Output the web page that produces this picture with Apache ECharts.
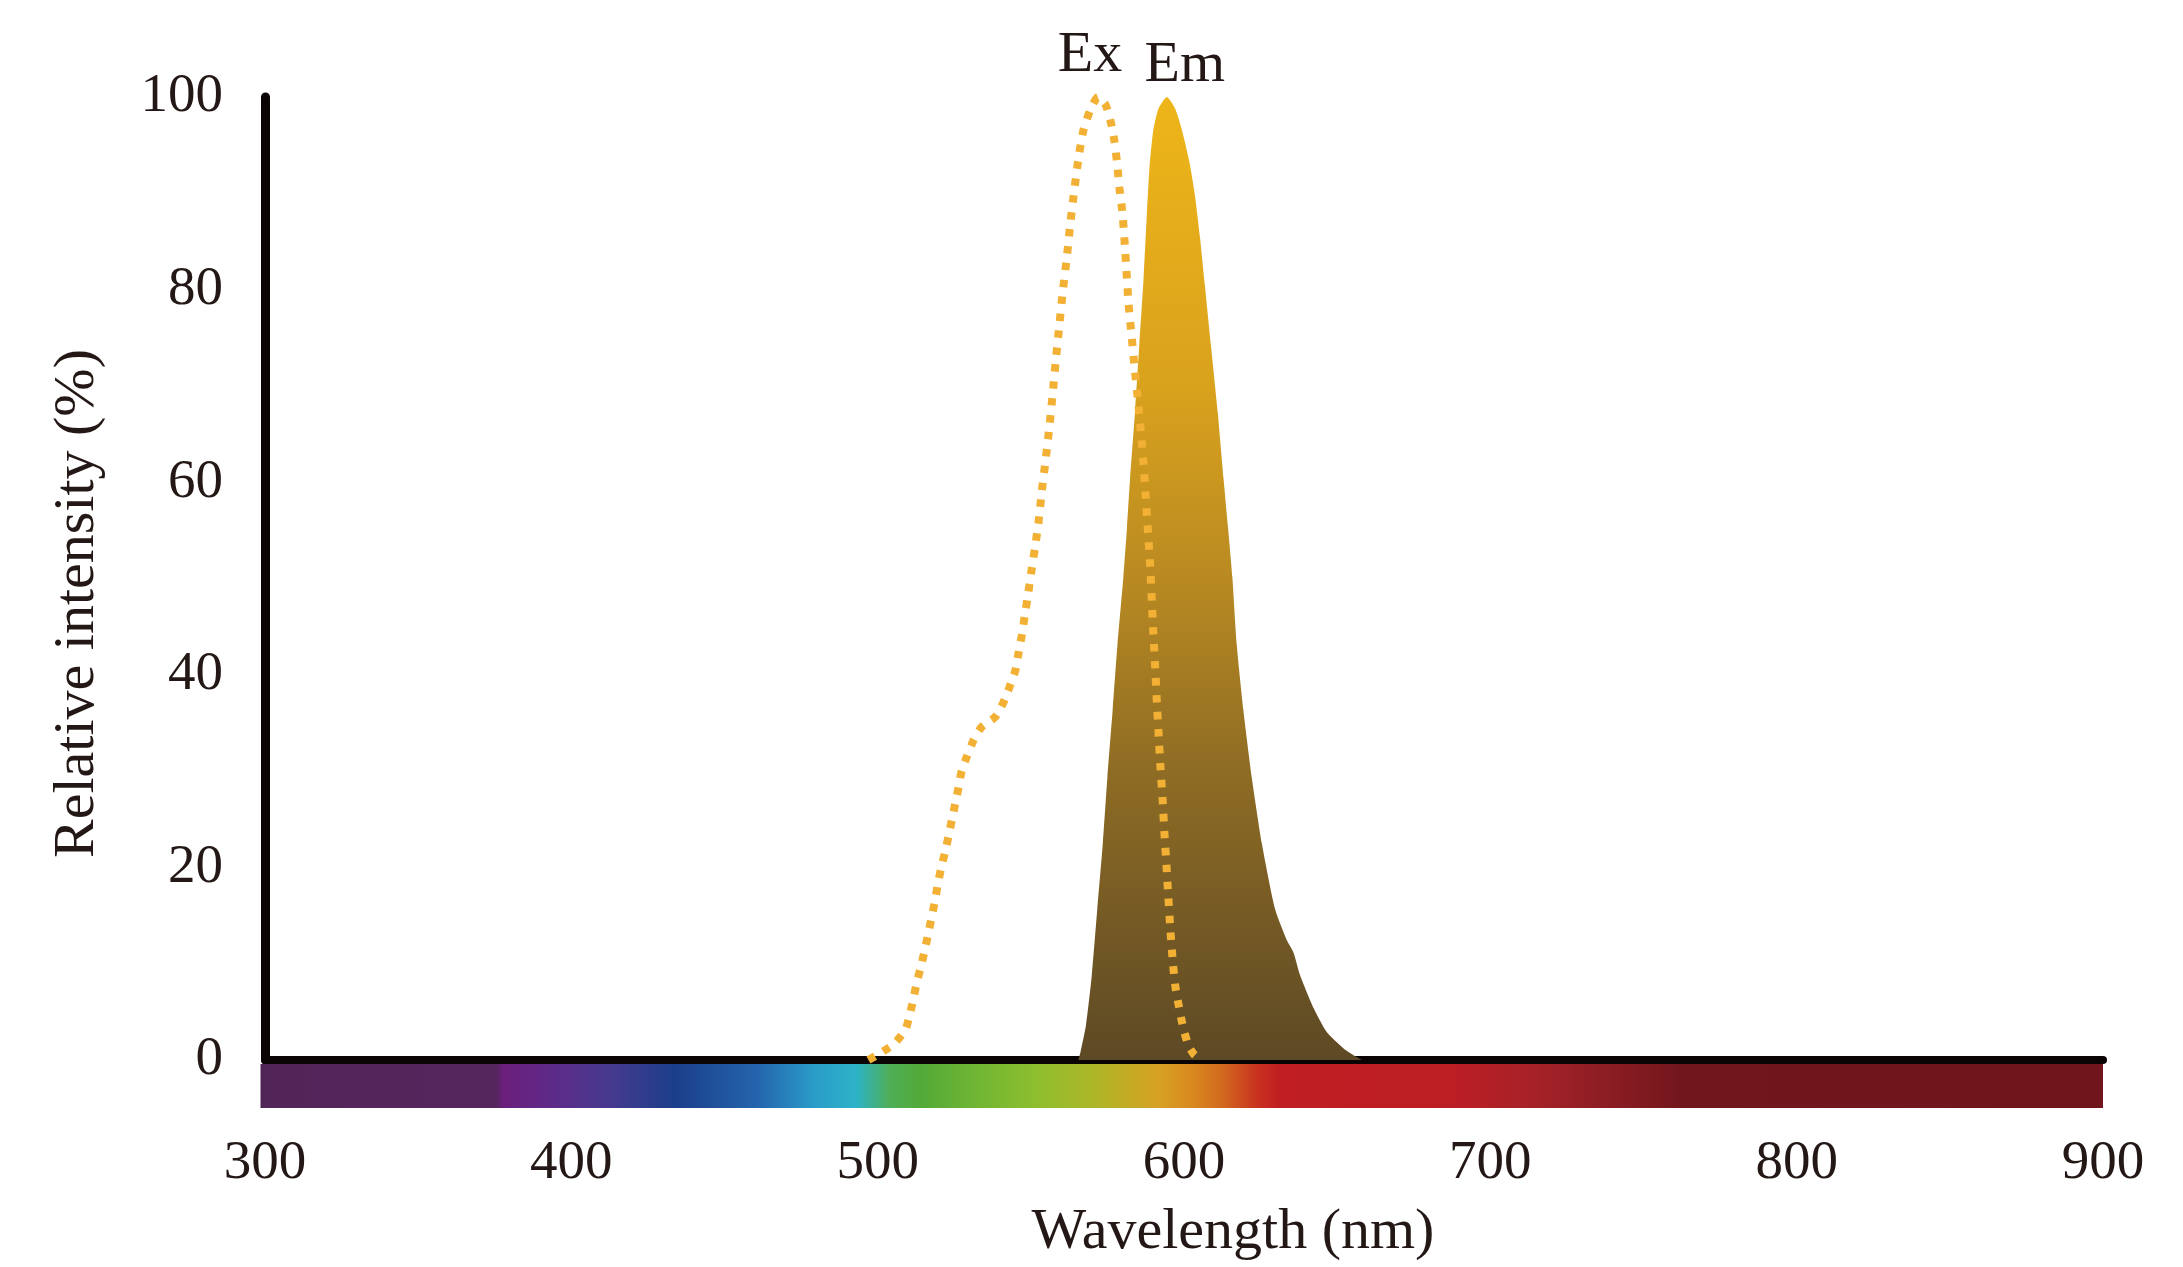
<!DOCTYPE html>
<html>
<head>
<meta charset="utf-8">
<script src="https://cdn.jsdelivr.net/npm/echarts@6/dist/echarts.min.js"></script>
<style>
html,body{margin:0;padding:0;background:#ffffff;}
#c{width:2183px;height:1267px;}
</style>
</head>
<body>
<div id="c"></div>
<script>
// ---- data ----
const xTicks = [300, 400, 500, 600, 700, 800, 900];
const yTicks = [0, 20, 40, 60, 80, 100];
const seriesNames = ['Ex', 'Em'];
const xTitle = 'Wavelength (nm)';
const yTitle = 'Relative intensity (%)';

// Excitation spectrum [wavelength nm, relative intensity %]
const exData = [
  [497,0],[500.8,0.7],[505.4,1.7],[509,3.1],[510.4,4.6],[511.7,6.4],[512.8,8.1],[514.2,9.8],
  [515.5,11.6],[516.5,13.1],[517.6,14.8],[518.7,16.5],[519.6,18.2],[520.7,19.9],[522,21.6],
  [523.1,23.2],[524.2,24.9],[525.3,26.6],[526.4,28.3],[527.4,30],[529.1,31.5],[531.3,33.2],
  [534,34.6],[538.3,35.6],[541,37.1],[543,38.7],[544.9,40.4],[546,42.3],[547.1,44.2],
  [548.1,46.3],[549.2,48.6],[550.3,51],[551.4,53.3],[552.5,55.8],[553.6,59.1],[554.9,62.5],
  [556.1,65.9],[557.2,69.4],[558.2,72.8],[559.3,76.3],[560.4,79.7],[561.7,83.2],[562.8,86.6],
  [564.1,90.1],[565.5,93.5],[567.2,96.6],[569.6,98.8],[571.9,100],[574.4,99.2],[576.1,97.4],
  [577.3,95.4],[578.2,93],[578.9,90.6],[579.9,88],[580.6,85],[581.2,82],[581.9,78.5],
  [582.9,75.2],[583.9,71.8],[585,68.4],[586,64.9],[586.9,61.4],[587.6,58],[588.3,54.6],
  [589,51.1],[589.5,47.7],[590,44.2],[590.6,40.8],[591.1,37.4],[591.7,33.9],[592.3,30.5],
  [593,27.1],[593.6,23.6],[594.3,20.1],[594.9,16.8],[595.6,13.3],[596.4,10],[597.2,7.6],
  [598.2,5.8],[599.1,4.3],[600.2,2.8],[601.6,1.4],[603.5,0.5],[606,0]
];

// Emission spectrum [wavelength nm, relative intensity %]
const emData = [
  [565.5,0],[566.2,0.8],[568,3.6],[569.9,8.8],[571.7,15.7],[573.5,22.5],[575,29.4],[576.7,36.3],
  [578.3,43.2],[580.2,50.1],[581.4,55.3],[582.4,60.4],[584,67.3],[585.4,74.2],[586.8,81.1],
  [587.9,88],[588.8,93],[590,96.6],[591.7,98.8],[594.4,100],[597.1,98.8],[599.3,96.6],
  [601.8,93.2],[603.6,89.7],[605.2,85.5],[606.8,80.5],[608.8,74.2],[611,67.3],[612.9,60.4],
  [614.4,55.2],[615.8,50.1],[617.2,43.2],[619.4,36.3],[622.1,29.4],[625.4,22.5],[629.7,15.7],
  [633.5,12.5],[635.7,11.2],[637.9,8.8],[642.3,5.4],[646.6,2.9],[652.1,1.2],[656.4,0.3],[658,0]
];

// Visible-spectrum colour bar under the x axis [wavelength nm, colour]
const spectrumStops = [
  [300,'#522558'],[377,'#55265E'],[379,'#6C1E7C'],[398,'#5B2D8A'],[415,'#443A8E'],[435,'#1B3E8A'],
  [462,'#2465AD'],[480,'#2A9BC8'],[494,'#2DB3C8'],[505,'#4FAE56'],[515,'#52AA38'],[530,'#6BB434'],
  [552,'#8DBE2E'],[572,'#AEB627'],[592,'#D6A222'],[603,'#D98A1F'],[613,'#D26A1F'],[625,'#C8301F'],
  [632,'#C01E22'],[690,'#BB1E24'],[712,'#A82228'],[735,'#8F1E24'],[765,'#70161C'],[900,'#6F151B']
];

// ---- chart ----
const FONT = "'Liberation Serif', 'Times New Roman', 'DejaVu Serif', serif";
const TXT = '#231815';
const chart = echarts.init(document.getElementById('c'), null, {renderer: 'canvas'});
const xMin = xTicks[0], xMax = xTicks[xTicks.length - 1];
const yMin = yTicks[0], yMax = yTicks[yTicks.length - 1];

chart.setOption({
  animation: false,
  backgroundColor: '#ffffff',
  grid: {left: 265, right: 80, top: 97, bottom: 202, containLabel: false},
  xAxis: {
    type: 'value', min: xMin, max: xMax, interval: xTicks[1] - xTicks[0],
    name: xTitle, nameLocation: 'middle', nameGap: 144,
    nameTextStyle: {fontFamily: FONT, fontSize: 58, color: TXT, padding: [0, 0, 0, 98]},
    axisLine: {show: true, onZero: false, lineStyle: {color: '#0a0405', width: 8}},
    axisTick: {show: false},
    splitLine: {show: false},
    axisLabel: {margin: 76, fontFamily: FONT, fontSize: 55, color: TXT}
  },
  yAxis: {
    type: 'value', min: yMin, max: yMax, interval: yTicks[1] - yTicks[0],
    name: yTitle, nameLocation: 'middle', nameGap: 158,
    nameTextStyle: {fontFamily: FONT, fontSize: 58, color: TXT, padding: [0, 50, 0, 0]},
    axisLine: {show: true, lineStyle: {color: '#0a0405', width: 9}},
    axisTick: {show: false},
    splitLine: {show: false},
    axisLabel: {margin: 42, fontFamily: FONT, fontSize: 55, color: TXT}
  },
  series: [
    {
      name: seriesNames[1], type: 'line', data: emData, smooth: 0.2, symbol: 'none', z: 2,
      lineStyle: {width: 0},
      areaStyle: {
        opacity: 1,
        color: new echarts.graphic.LinearGradient(0, 0, 0, 1, [
          {offset: 0, color: '#EEB519'},
          {offset: 0.3, color: '#D9A21D'},
          {offset: 0.5, color: '#B98A22'},
          {offset: 0.7, color: '#8E6C24'},
          {offset: 1, color: '#5D4925'}
        ])
      }
    },
    {
      name: seriesNames[0], type: 'line', data: exData, smooth: 0.2, symbol: 'none', z: 3,
      lineStyle: {color: '#F2B134', width: 8, type: [7.5, 9.5], cap: 'butt'}
    }
  ]
});

function peakOf(arr) {
  let best = arr[0];
  arr.forEach(p => { if (p[1] > best[1]) best = p; });
  return best;
}

function drawExtras() {
  const g = {gridIndex: 0};
  const p0 = chart.convertToPixel(g, [xMin, 0]);
  const p1 = chart.convertToPixel(g, [xMax, 0]);
  const stops = spectrumStops.map(s => ({offset: (s[0] - xMin) / (xMax - xMin), color: s[1]}));
  const exPk = chart.convertToPixel(g, peakOf(exData));
  const emPk = chart.convertToPixel(g, peakOf(emData));
  chart.setOption({
    graphic: [
      {
        type: 'rect', z: 1, silent: true,
        shape: {x: p0[0] - 4.5, y: p0[1] + 4, width: p1[0] - p0[0] + 4.5, height: 44},
        style: {fill: new echarts.graphic.LinearGradient(0, 0, 1, 0, stops)}
      },
      {
        type: 'text', z: 10, silent: true,
        x: exPk[0] - 8, y: exPk[1] - 12,
        style: {text: seriesNames[0], fontFamily: FONT, fontSize: 58, fill: TXT,
                textAlign: 'center', textVerticalAlign: 'bottom'}
      },
      {
        type: 'text', z: 10, silent: true,
        x: emPk[0] + 18, y: emPk[1] - 2,
        style: {text: seriesNames[1], fontFamily: FONT, fontSize: 58, fill: TXT,
                textAlign: 'center', textVerticalAlign: 'bottom'}
      }
    ]
  });
}
drawExtras();
</script>
</body>
</html>
